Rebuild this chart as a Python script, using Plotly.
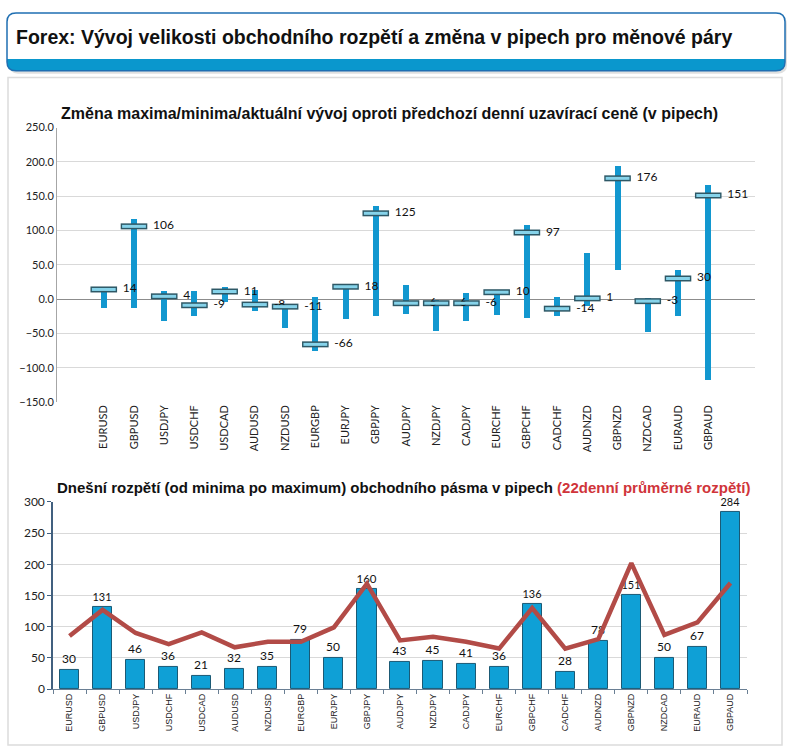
import plotly.graph_objects as go

pairs = ["EURUSD", "GBPUSD", "USDJPY", "USDCHF", "USDCAD", "AUDUSD", "NZDUSD", "EURGBP",
         "EURJPY", "GBPJPY", "AUDJPY", "NZDJPY", "CADJPY", "EURCHF", "GBPCHF", "CADCHF",
         "AUDNZD", "GBPNZD", "NZDCAD", "EURAUD", "GBPAUD"]
close_change = [14, 106, 4, -9, 11, -8, -11, -66, 18, 125, -6, -6, -6, 10, 97, -14, 1, 176, -3, 30, 151]
high_change = [17, 118, 13, 13, 18, 14, -7, 3, 21, 136, 21, -1, 9, 14, 109, 4, 68, 194, 2, 43, 167]
low_change = [-13, -13, -32, -24, -4, -17, -42, -75, -29, -24, -21, -46, -32, -22, -27, -24, -10, 43, -48, -24, -117]
range_today = [30, 131, 46, 36, 21, 32, 35, 79, 50, 160, 43, 45, 41, 36, 136, 28, 78, 151, 50, 67, 284]
avg22 = [85, 127, 90, 72, 91, 67, 76, 76, 99, 169, 78, 84, 76, 65, 130, 65, 80, 202, 87, 107, 170]

W, H = 794, 752


def px(x):
    return x / W


def py(y):
    return 1 - y / H


fig = go.Figure()

# ---- top chart: floating range bars + close markers
fig.add_trace(go.Bar(
    x=pairs, y=[h - l for h, l in zip(high_change, low_change)], base=low_change,
    width=0.2, marker=dict(color="#1297CF", line=dict(width=0)),
    xaxis="x", yaxis="y", showlegend=False, hoverinfo="skip"))
fig.add_trace(go.Scatter(
    x=pairs, y=close_change, mode="markers+text",
    text=["\u00a0\u00a0" + str(v) for v in close_change], textposition="middle right",
    textfont=dict(family="Lato, Open Sans, sans-serif", size=12, color="#111"),
    marker=dict(symbol="line-ew", size=19, line=dict(width=6, color="#2e5866")),
    xaxis="x", yaxis="y", showlegend=False, cliponaxis=False))
fig.add_trace(go.Scatter(
    x=pairs, y=close_change, mode="markers",
    marker=dict(symbol="line-ew", size=17, line=dict(width=3, color="#86d3ea")),
    xaxis="x", yaxis="y", showlegend=False, cliponaxis=False))

# ---- bottom chart: today's range bars + 22-day average line
fig.add_trace(go.Bar(
    x=pairs, y=range_today, width=0.58,
    marker=dict(color="#0FA0D6", line=dict(width=1, color="#1b5a75")),
    text=[str(v) for v in range_today], textposition="outside",
    textfont=dict(family="Lato, Open Sans, sans-serif", size=12, color="#111"),
    xaxis="x2", yaxis="y2", showlegend=False, cliponaxis=False))
fig.add_trace(go.Scatter(
    x=pairs, y=avg22, mode="lines", line=dict(color="#B24B47", width=4.5),
    xaxis="x2", yaxis="y2", showlegend=False))

tickfont = dict(family="Lato, Open Sans, sans-serif", size=11, color="#222")

fig.update_layout(
    width=W, height=H, margin=dict(l=0, r=0, t=0, b=0),
    paper_bgcolor="white", plot_bgcolor="white", bargap=0,
    xaxis=dict(domain=[px(57), px(755)], anchor="y", tickangle=-90,
               tickfont=dict(family="Lato, Open Sans, sans-serif", size=11, color="#222"),
               showgrid=False, showline=False, ticks=""),
    yaxis=dict(domain=[py(402), py(122)], anchor="x", range=[-150, 250], dtick=50,
               tickformat=".1f", tickfont=tickfont, showgrid=True, gridcolor="#d9d9d9",
               zeroline=True, zerolinecolor="#8c8c8c", zerolinewidth=1,
               showline=True, linecolor="#a6a6a6", linewidth=1, ticks=""),
    xaxis2=dict(domain=[px(53), px(747)], anchor="y2", tickangle=-90,
                tickfont=dict(family="Liberation Sans, Arial, sans-serif", size=9, color="#222"),
                showgrid=False, showline=True, linecolor="#6a7f94", linewidth=1,
                ticks="outside", ticklen=4, tickcolor="#6a7f94", tickson="boundaries"),
    yaxis2=dict(domain=[py(695), py(504)], anchor="x2", range=[0, 300], dtick=50,
                tickfont=dict(family="Lato, Open Sans, sans-serif", size=12, color="#222"),
                showgrid=True, gridcolor="#d9d9d9", zeroline=False,
                showline=True, linecolor="#41607f", linewidth=1.5,
                ticks="outside", ticklen=4, tickcolor="#41607f"),
)

# ---- header and panel decorations
r = 9
x0, x1, y0, y1 = 7, 785, 5, 64


def rr_path(x0, y0, x1, y1, r, top=True, bottom=True):
    rt = r if top else 0
    rb = r if bottom else 0
    p = f"M {px(x0 + rt)},{py(y0)} L {px(x1 - rt)},{py(y0)} "
    p += f"Q {px(x1)},{py(y0)} {px(x1)},{py(y0 + rt)} "
    p += f"L {px(x1)},{py(y1 - rb)} Q {px(x1)},{py(y1)} {px(x1 - rb)},{py(y1)} "
    p += f"L {px(x0 + rb)},{py(y1)} Q {px(x0)},{py(y1)} {px(x0)},{py(y1 - rb)} "
    p += f"L {px(x0)},{py(y0 + rt)} Q {px(x0)},{py(y0)} {px(x0 + rt)},{py(y0)} Z"
    return p


shapes = [
    dict(type="rect", xref="paper", yref="paper", x0=px(8), x1=px(782), y0=py(752), y1=py(71),
         line=dict(color="#dcdcdc", width=1.5), fillcolor="rgba(0,0,0,0)", layer="below"),
    dict(type="path", xref="paper", yref="paper", path=rr_path(x0 + 2, y0 + 3, x1 + 2, y1 + 3, r),
         line=dict(width=0), fillcolor="rgba(0,0,0,0.12)", layer="below"),
    dict(type="path", xref="paper", yref="paper", path=rr_path(x0, y0, x1, y1, r),
         line=dict(width=0), fillcolor="white", layer="below"),
    dict(type="path", xref="paper", yref="paper", path=rr_path(x0, 52, x1, y1, r, top=False),
         line=dict(width=0), fillcolor="#0A97CD", layer="below"),
    dict(type="path", xref="paper", yref="paper", path=rr_path(x0, y0, x1, y1, r),
         line=dict(color="#1f6fb2", width=1.5), fillcolor="rgba(0,0,0,0)", layer="below"),
]
fig.update_layout(shapes=shapes)

fig.add_annotation(
    xref="paper", yref="paper", x=px(14), y=py(30), xanchor="left", yanchor="middle",
    text="<b>Forex: Vývoj velikosti obchodního rozpětí a změna v pipech pro měnové páry</b>",
    showarrow=False, font=dict(family="Liberation Sans, Arial, sans-serif", size=19.5, color="#111"))
fig.add_annotation(
    xref="paper", yref="paper", x=px(59), y=py(108), xanchor="left", yanchor="middle",
    text="<b>Změna maxima/minima/aktuální vývoj oproti předchozí denní uzavírací ceně (v pipech)</b>",
    showarrow=False, font=dict(family="Liberation Sans, Arial, sans-serif", size=16, color="#111"))
fig.add_annotation(
    xref="paper", yref="paper", x=px(55), y=py(489), xanchor="left", yanchor="middle",
    text="<b>Dnešní rozpětí (od minima po maximum) obchodního pásma v pipech "
         "<span style='color:#D0343A'>(22denní průměrné rozpětí)</span></b>",
    showarrow=False, font=dict(family="Liberation Sans, Arial, sans-serif", size=15, color="#111"))

fig.write_html("out.html", config={"displayModeBar": False},
               post_script="document.body.style.margin='0';")
